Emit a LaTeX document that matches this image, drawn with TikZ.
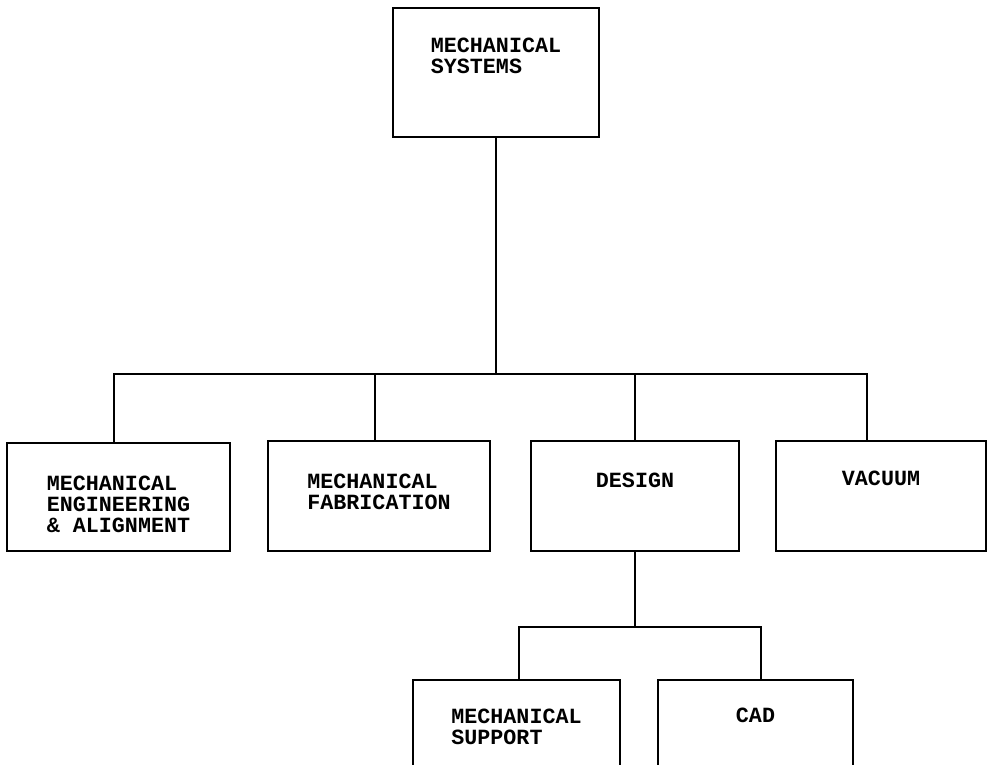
\documentclass[tikz,border=0pt]{standalone}
\usepackage{fontspec}
\setmonofont{Liberation Mono}
\usetikzlibrary{positioning}

\newcommand{\stack}[1]{\begin{tabular}[t]{@{}l@{}}#1\end{tabular}}

\begin{document}
\begin{tikzpicture}[x=1pt, y=-1pt, line width=1.8pt,
  unit/.style={draw, rectangle, inner sep=0pt, anchor=north,
    font=\ttfamily\bfseries\fontsize{21.7pt}{21pt}\selectfont}]
\useasboundingbox (0,0) rectangle (990,764);

% Head of the group
\node (systems) [unit, minimum width=206pt, text height=45pt, text depth=84pt] at (496,7) {\stack{MECHANICAL\\SYSTEMS}};

% Sections
\node (engineering) [unit, minimum width=223pt, text height=48pt, text depth=60pt] at (118.5,442) {\stack{MECHANICAL\\ENGINEERING\\\& ALIGNMENT}};
\node (fabrication) [unit, minimum width=222pt, text height=48pt, text depth=62pt] at (379,440) {\stack{MECHANICAL\\FABRICATION}};
\node (design) [unit, minimum width=208pt, text height=47pt, text depth=63pt] at (635,440) {\stack{DESIGN}};
\node (vacuum) [unit, minimum width=210pt, text height=45pt, text depth=65pt] at (881,440) {\stack{VACUUM}};

% Groups under design
\node (support) [unit, minimum width=207pt, text height=44pt, text depth=67pt] at (516.5,679) {\stack{MECHANICAL\\SUPPORT}};
\node (cad) [unit, minimum width=195pt, text height=43pt, text depth=68pt] at (755.5,679) {\stack{CAD}};

% Connecting lines
\coordinate (busL) at (114,374);
\coordinate (busM) at (375,374);
\coordinate (busR) at (867,374);
\draw (systems.south) -- (systems.south |- busL);
\draw (busL |- engineering.north) -- (busL) -- (busR) -- (busR |- vacuum.north);
\draw (busM) -- (busM |- fabrication.north);
\draw (design.north |- busL) -- (design.north);

\coordinate (subL) at (519,627);
\coordinate (subR) at (761,627);
\draw (design.south) -- (design.south |- subL);
\draw (subL |- support.north) -- (subL) -- (subR) -- (subR |- cad.north);
\end{tikzpicture}
\end{document}
